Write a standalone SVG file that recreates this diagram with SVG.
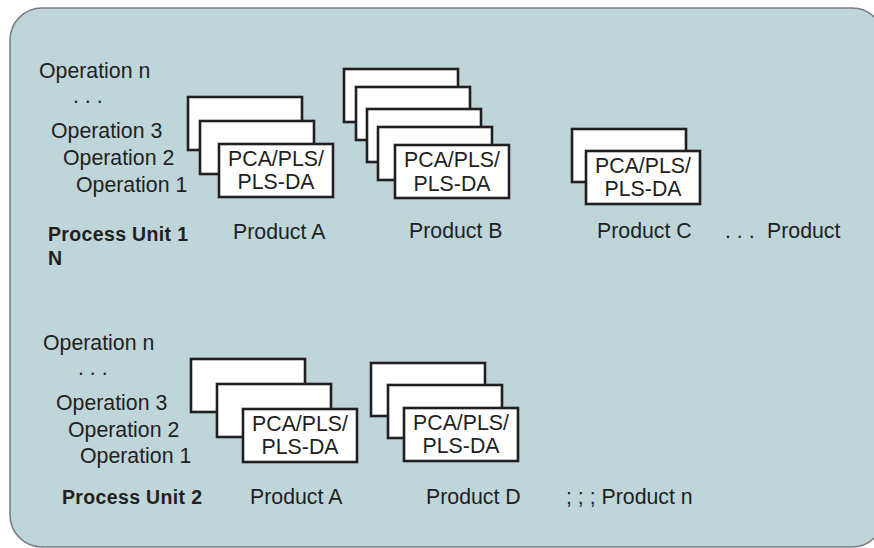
<svg xmlns="http://www.w3.org/2000/svg" width="874" height="548" viewBox="0 0 874 548">
<style>
.card{fill:#ffffff;stroke:#231f20;stroke-width:2.6}
.t{font-family:"Liberation Sans",Arial,Helvetica,sans-serif;font-size:21.3px;fill:#231f20}
.b{font-family:"Liberation Sans",Arial,Helvetica,sans-serif;font-size:19.5px;font-weight:bold;letter-spacing:0.35px;fill:#231f20}
.c{text-anchor:middle}
</style>
<rect width="874" height="548" fill="#ffffff"/>
<rect id="panel" x="10" y="8" width="874" height="539" rx="32" ry="32" fill="#bed5da" stroke="#7a7c7e" stroke-width="1.5"/>

<g id="unit1-labels">
<text class="t" x="39" y="78">Operation n</text>
<text class="t" x="73" y="103">. . .</text>
<text class="t" x="51" y="138">Operation 3</text>
<text class="t" x="63" y="165">Operation 2</text>
<text class="t" x="76" y="192">Operation 1</text>
<text class="b" x="48" y="241">Process Unit 1</text>
<text class="b" x="48" y="265">N</text>
</g>

<g id="u1-productA">
<rect class="card" x="188" y="97" width="114" height="53"/>
<rect class="card" x="200" y="121" width="114" height="53"/>
<rect class="card" x="219" y="144" width="114" height="53"/>
<text class="t c" x="276" y="166">PCA/PLS/</text>
<text class="t c" x="276" y="189">PLS-DA</text>
<text class="t" x="233" y="239">Product A</text>
</g>

<g id="u1-productB">
<rect class="card" x="344" y="69" width="114" height="53"/>
<rect class="card" x="356" y="87" width="114" height="53"/>
<rect class="card" x="367" y="109" width="114" height="53"/>
<rect class="card" x="378" y="127" width="114" height="53"/>
<rect class="card" x="395" y="145" width="114" height="53"/>
<text class="t c" x="452" y="167">PCA/PLS/</text>
<text class="t c" x="452" y="191">PLS-DA</text>
<text class="t" x="409" y="238">Product B</text>
</g>

<g id="u1-productC">
<rect class="card" x="572" y="129" width="114" height="53"/>
<rect class="card" x="586" y="151" width="114" height="53"/>
<text class="t c" x="643" y="173">PCA/PLS/</text>
<text class="t c" x="643" y="196">PLS-DA</text>
<text class="t" x="597" y="238">Product C</text>
</g>

<g id="u1-productN">
<text class="t" x="725" y="238">. . .<tspan x="767">Product</tspan></text>
</g>

<g id="unit2-labels">
<text class="t" x="43" y="350">Operation n</text>
<text class="t" x="78" y="375">. . .</text>
<text class="t" x="56" y="410">Operation 3</text>
<text class="t" x="68" y="437">Operation 2</text>
<text class="t" x="80" y="463">Operation 1</text>
<text class="b" x="62" y="504">Process Unit 2</text>
</g>

<g id="u2-productA">
<rect class="card" x="191" y="359" width="114" height="53"/>
<rect class="card" x="217" y="384" width="114" height="53"/>
<rect class="card" x="243" y="409" width="114" height="53"/>
<text class="t c" x="300" y="431">PCA/PLS/</text>
<text class="t c" x="300" y="454">PLS-DA</text>
<text class="t" x="250" y="504">Product A</text>
</g>

<g id="u2-productD">
<rect class="card" x="371" y="363" width="114" height="53"/>
<rect class="card" x="388" y="385" width="114" height="53"/>
<rect class="card" x="404" y="408" width="114" height="53"/>
<text class="t c" x="461" y="430">PCA/PLS/</text>
<text class="t c" x="461" y="453">PLS-DA</text>
<text class="t" x="426" y="504">Product D</text>
</g>

<g id="u2-productN">
<text class="t" x="566" y="504">; ; ; Product n</text>
</g>
</svg>
